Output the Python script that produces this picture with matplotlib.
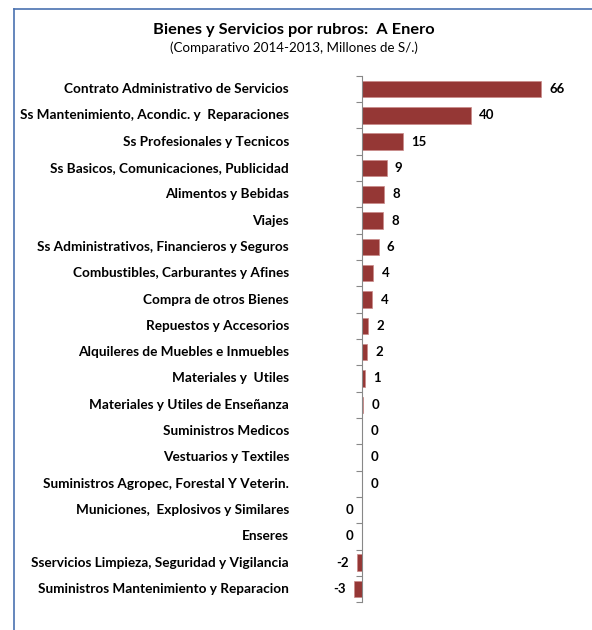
import matplotlib.pyplot as plt
import numpy as np
from matplotlib.lines import Line2D

plt.rcParams['font.family'] = ['Lato', 'DejaVu Sans']

rubros = [
    "Contrato Administrativo de Servicios",
    "Ss Mantenimiento, Acondic. y  Reparaciones",
    "Ss Profesionales y Tecnicos",
    "Ss Basicos, Comunicaciones, Publicidad",
    "Alimentos y Bebidas",
    "Viajes",
    "Ss Administrativos, Financieros y Seguros",
    "Combustibles, Carburantes y Afines",
    "Compra de otros Bienes",
    "Repuestos y Accesorios",
    "Alquileres de Muebles e Inmuebles",
    "Materiales y  Utiles",
    "Materiales y Utiles de Enseñanza",
    "Suministros Medicos",
    "Vestuarios y Textiles",
    "Suministros Agropec, Forestal Y Veterin.",
    "Municiones,  Explosivos y Similares",
    "Enseres",
    "Sservicios Limpieza, Seguridad y Vigilancia",
    "Suministros Mantenimiento y Reparacion",
]
valores = [66.0, 40.2, 15.0, 9.1, 8.1, 7.7, 6.1, 4.1, 3.8, 2.1, 1.8, 1.0,
           0.3, 0.1, 0.05, 0.02, -0.02, -0.05, -1.8, -2.8]
etiquetas = ["66", "40", "15", "9", "8", "8", "6", "4", "4", "2", "2", "1",
             "0", "0", "0", "0", "0", "0", "-2", "-3"]

bar_color = '#953735'

fig = plt.figure(figsize=(5.92, 6.30), dpi=100)
ax = fig.add_axes([0.5657, 0.0441, 0.3662, 0.8356])

y = np.arange(len(rubros))
ax.barh(y, valores, height=0.63, color=bar_color, edgecolor='#c98a88', linewidth=0.5)
ax.set_xlim(-10, 70)
ax.set_ylim(len(rubros) - 0.5, -0.5)

for yi, v, lab in zip(y, valores, etiquetas):
    if v >= 0:
        ax.annotate(lab, (v, yi), xytext=(6, 0), textcoords='offset points',
                    ha='left', va='center', fontsize=9.5, fontweight='bold')
    else:
        ax.annotate(lab, (v, yi), xytext=(-6, 0), textcoords='offset points',
                    ha='right', va='center', fontsize=9.5, fontweight='bold')

# nombres de rubros alineados a la derecha, lejos del eje
for yi, nombre in zip(y, rubros):
    ax.text(-0.2117, yi, nombre, transform=ax.get_yaxis_transform(),
            ha='right', va='center', fontsize=9.8, fontweight='bold')

ax.set_yticks(np.arange(-0.5, len(rubros), 1))
ax.set_yticklabels([])
ax.tick_params(axis='y', length=4, color='#888888', width=0.8)
ax.set_xticks([])
for s in ['top', 'right', 'bottom']:
    ax.spines[s].set_visible(False)
ax.spines['left'].set_position(('data', 0))
ax.spines['left'].set_color('#888888')
ax.spines['left'].set_linewidth(0.8)

fig.text(0.4966, 0.952, "Bienes y Servicios por rubros:  A Enero", ha='center', va='center',
         fontsize=11.8, fontweight='bold')
fig.text(0.4966, 0.925, "(Comparativo 2014-2013, Millones de S/.)", ha='center', va='center',
         fontsize=9.6)

# marco del grafico
fig.add_artist(Line2D([14 / 592, 14 / 592], [0, 1 - 9 / 630], color='#4a72b0', lw=1.2))
fig.add_artist(Line2D([14 / 592, 1], [1 - 9 / 630, 1 - 9 / 630], color='#4a72b0', lw=1.2))

fig.savefig('out.png', dpi=100)
